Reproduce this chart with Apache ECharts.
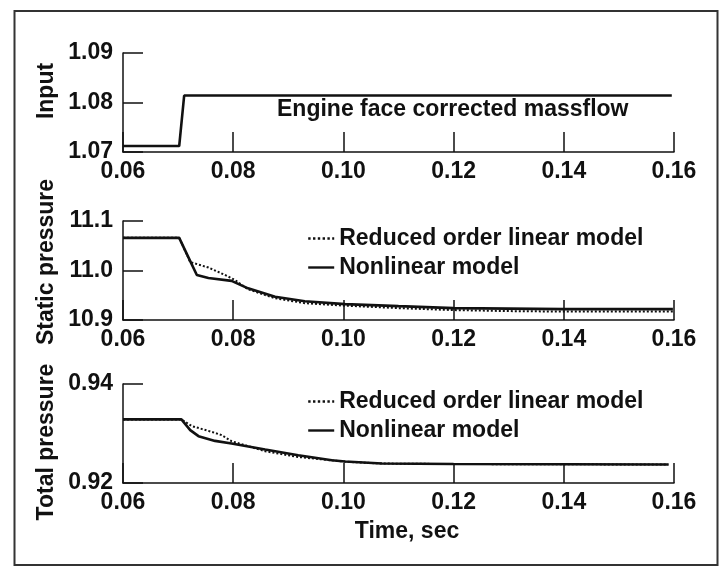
<!DOCTYPE html>
<html>
<head>
<meta charset="utf-8">
<script src="https://cdn.jsdelivr.net/npm/echarts@6/dist/echarts.min.js"></script>
<style>
  html, body { margin: 0; padding: 0; background: #ffffff; }
  #chart { width: 719px; height: 566px; }
</style>
</head>
<body>
<div id="chart"></div>
<script>
// Time axis shared by all three panels (seconds)
const timeTicks = [0.06, 0.08, 0.10, 0.12, 0.14, 0.16];

// Panel 1: engine face corrected massflow step input
const inputTicks = [1.07, 1.08, 1.09];
const inputTime = [0.0600, 0.0702, 0.0711, 0.1596];
const inputValue = [1.0712, 1.0712, 1.0814, 1.0814];

// Panel 2: static pressure response
const staticTicks = [10.9, 11.0, 11.1];
const staticNonlinTime = [0.0600, 0.0702, 0.0722, 0.0734, 0.0755, 0.0797, 0.0827, 0.0876, 0.0930, 0.1003, 0.1100, 0.1200, 0.1300, 0.1400, 0.1500, 0.1598];
const staticNonlinValue = [11.066, 11.066, 11.019, 10.991, 10.985, 10.979, 10.964, 10.947, 10.938, 10.932, 10.928, 10.924, 10.923, 10.922, 10.922, 10.922];
const staticLinearTime = [0.0600, 0.0702, 0.0722, 0.0755, 0.0785, 0.0803, 0.0827, 0.0876, 0.0930, 0.1003, 0.1100, 0.1200, 0.1300, 0.1400, 0.1500, 0.1598];
const staticLinearValue = [11.066, 11.066, 11.017, 11.006, 10.991, 10.981, 10.962, 10.944, 10.934, 10.929, 10.924, 10.920, 10.918, 10.917, 10.917, 10.917];

// Panel 3: total pressure response
const totalTicks = [0.92, 0.94];
const totalNonlinTime = [0.0600, 0.0706, 0.0722, 0.0737, 0.0767, 0.0797, 0.0858, 0.0918, 0.0979, 0.1003, 0.1070, 0.1200, 0.1400, 0.1590];
const totalNonlinValue = [0.93285, 0.93285, 0.93068, 0.92946, 0.92851, 0.92798, 0.92677, 0.92561, 0.92460, 0.92435, 0.92395, 0.92385, 0.92380, 0.92375];
const totalLinearTime = [0.0600, 0.0706, 0.0725, 0.0755, 0.0779, 0.0797, 0.0858, 0.0917, 0.0977, 0.1003, 0.1070, 0.1200, 0.1400, 0.1590];
const totalLinearValue = [0.93285, 0.93285, 0.93149, 0.93054, 0.92967, 0.92845, 0.92642, 0.92527, 0.92460, 0.92430, 0.92393, 0.92383, 0.92378, 0.92373];

const seriesNames = ['Reduced order linear model', 'Nonlinear model'];
const annotation = 'Engine face corrected massflow';
const axisTitles = ['Input', 'Static pressure', 'Total pressure'];
const timeTitle = 'Time, sec';

const FONT = '"Liberation Sans", Arial, Helvetica, sans-serif';
const INK = '#111111';
const textStyle = { color: INK, fontFamily: FONT, fontWeight: 'bold', fontSize: 23 };

const pairs = (xs, ys) => xs.map((x, i) => [x, ys[i]]);

const gridBoxes = [
  { left: 123, top: 53, width: 551, height: 99 },
  { left: 123, top: 221, width: 551, height: 99 },
  { left: 123, top: 384, width: 551, height: 99 }
];

function timeAxis(idx) {
  return {
    type: 'value', gridIndex: idx,
    min: timeTicks[0], max: timeTicks[timeTicks.length - 1],
    interval: timeTicks[1] - timeTicks[0],
    axisLine: { lineStyle: { color: INK, width: 1.5 } },
    axisTick: { inside: true, length: 20, lineStyle: { color: INK, width: 1.5 } },
    axisLabel: Object.assign({ margin: 8, formatter: v => v.toFixed(2) }, textStyle),
    splitLine: { show: false }
  };
}

function valueAxis(idx, ticks, digits) {
  return {
    type: 'value', gridIndex: idx,
    min: ticks[0], max: ticks[ticks.length - 1],
    interval: ticks[1] - ticks[0],
    axisLine: { show: true, lineStyle: { color: INK, width: 1.5 } },
    axisTick: { show: true, inside: true, length: 20, lineStyle: { color: INK, width: 1.5 } },
    axisLabel: Object.assign({ margin: 10, formatter: v => v.toFixed(digits) }, textStyle),
    splitLine: { show: false }
  };
}

function curve(name, idx, data, dotted) {
  return {
    type: 'line', name: name, xAxisIndex: idx, yAxisIndex: idx,
    data: data, symbol: 'none', showSymbol: false, animation: false,
    lineStyle: { color: INK, width: dotted ? 2 : 2.6, type: dotted ? 'dotted' : 'solid' },
    itemStyle: { color: INK }
  };
}

// Line-only legend samples (no marker in the middle)
function legendAt(top) {
  return {
    data: seriesNames, orient: 'vertical', left: 307, top: top, padding: 0,
    itemWidth: 26, itemHeight: 14, itemGap: 6,
    selectedMode: false,
    itemStyle: { opacity: 0 },
    lineStyle: { width: 2.4 },
    textStyle: Object.assign({ lineHeight: 23 }, textStyle)
  };
}

const chart = echarts.init(document.getElementById('chart'), null, { renderer: 'canvas' });

chart.setOption({
  backgroundColor: '#ffffff',
  animation: false,
  grid: gridBoxes,
  xAxis: [timeAxis(0), timeAxis(1), timeAxis(2)],
  yAxis: [valueAxis(0, inputTicks, 2), valueAxis(1, staticTicks, 1), valueAxis(2, totalTicks, 2)],
  legend: [legendAt(227), legendAt(390)],
  series: [
    curve(annotation, 0, pairs(inputTime, inputValue), false),
    curve(seriesNames[0], 1, pairs(staticLinearTime, staticLinearValue), true),
    curve(seriesNames[1], 1, pairs(staticNonlinTime, staticNonlinValue), false),
    curve(seriesNames[0], 2, pairs(totalLinearTime, totalLinearValue), true),
    curve(seriesNames[1], 2, pairs(totalNonlinTime, totalNonlinValue), false)
  ],
  graphic: [
    { type: 'rect', shape: { x: 14.5, y: 11, width: 703, height: 554 },
      style: { fill: 'none', stroke: '#333333', lineWidth: 2 }, silent: true },
    { type: 'text', x: 277, y: 110,
      style: { text: annotation, fill: INK, font: 'bold 23px ' + FONT, verticalAlign: 'middle' } },
    { type: 'text', x: 47, y: 91, rotation: Math.PI / 2,
      style: { text: axisTitles[0], fill: INK, font: 'bold 23px ' + FONT, align: 'center', verticalAlign: 'middle' } },
    { type: 'text', x: 47, y: 262, rotation: Math.PI / 2,
      style: { text: axisTitles[1], fill: INK, font: 'bold 23px ' + FONT, align: 'center', verticalAlign: 'middle' } },
    { type: 'text', x: 47, y: 442, rotation: Math.PI / 2,
      style: { text: axisTitles[2], fill: INK, font: 'bold 23px ' + FONT, align: 'center', verticalAlign: 'middle' } },
    { type: 'text', x: 407, y: 532,
      style: { text: timeTitle, fill: INK, font: 'bold 23px ' + FONT, align: 'center', verticalAlign: 'middle' } }
  ]
});
</script>
</body>
</html>
